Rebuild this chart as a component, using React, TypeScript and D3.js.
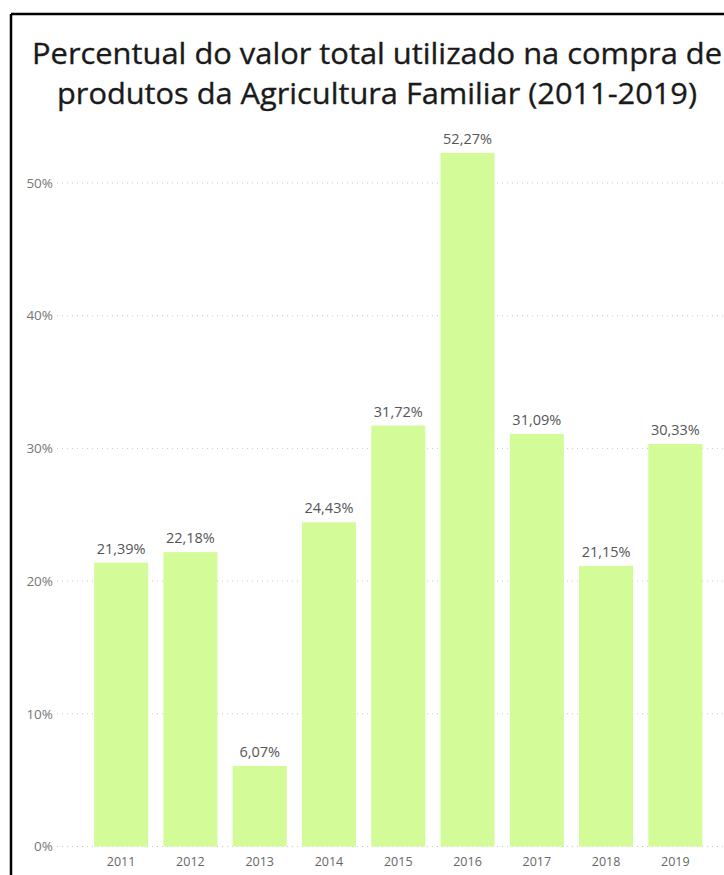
import React from "react";
import * as d3 from "d3";

const years = ["2011", "2012", "2013", "2014", "2015", "2016", "2017", "2018", "2019"];
const values = [21.39, 22.18, 6.07, 24.43, 31.72, 52.27, 31.09, 21.15, 30.33];
const yTicks = [0, 10, 20, 30, 40, 50];
const titleLines = [
  "Percentual do valor total utilizado na compra de",
  "produtos da Agricultura Familiar (2011-2019)",
];

const W = 724;
const H = 875;
const FONT = "'Open Sans', 'Noto Sans', sans-serif";

export default function App() {
  const x = d3
    .scaleBand<string>()
    .domain(years)
    .range([86.5, 710])
    .paddingInner(0.22)
    .paddingOuter(0.11);
  const y = d3.scaleLinear().domain([0, 50]).range([846.5, 183]);
  const fmt = (v: number) => v.toFixed(2).replace(".", ",") + "%";
  const titleWidths = [690, 640];

  return (
    <svg
      width={W}
      height={H}
      style={{ position: "absolute", left: 0, top: 0, display: "block", background: "#fff" }}
    >
      <rect x={0} y={0} width={W} height={H} fill="#fff" />
      {/* frame */}
      <line x1={11} y1={14} x2={W} y2={14} stroke="#000" strokeWidth={2.5} />
      <line x1={11} y1={14} x2={11} y2={H} stroke="#000" strokeWidth={2.5} />
      {/* title */}
      {titleLines.map((t, i) => (
        <text
          key={i}
          x={377}
          y={64 + i * 40}
          textAnchor="middle"
          fontFamily={FONT}
          fontSize={29.5}
          fill="#1a1a1a"
          stroke="#1a1a1a"
          strokeWidth={0.35}
          textLength={titleWidths[i]}
          lengthAdjust="spacingAndGlyphs"
        >
          {t}
        </text>
      ))}
      {/* gridlines and y labels */}
      {yTicks.map((t) => (
        <g key={t}>
          <line
            x1={57}
            x2={W}
            y1={y(t)}
            y2={y(t)}
            stroke="#c8c8c8"
            strokeWidth={1}
            strokeDasharray="1 4"
          />
          <text
            x={53}
            y={y(t)}
            dy="0.35em"
            textAnchor="end"
            fontFamily={FONT}
            fontSize={13.5}
            fill="#777"
          >
            {t}%
          </text>
        </g>
      ))}
      {/* bars */}
      {years.map((yr, i) => (
        <g key={yr}>
          <rect
            x={x(yr)}
            y={y(values[i])}
            width={x.bandwidth()}
            height={y(0) - y(values[i])}
            fill="#d3fc98"
          />
          <text
            x={(x(yr) as number) + x.bandwidth() / 2}
            y={y(values[i]) - 9}
            textAnchor="middle"
            fontFamily={FONT}
            fontSize={14.5}
            fill="#555"
          >
            {fmt(values[i])}
          </text>
          <text
            x={(x(yr) as number) + x.bandwidth() / 2}
            y={866}
            textAnchor="middle"
            fontFamily={FONT}
            fontSize={12.5}
            fill="#666"
          >
            {yr}
          </text>
        </g>
      ))}
    </svg>
  );
}
